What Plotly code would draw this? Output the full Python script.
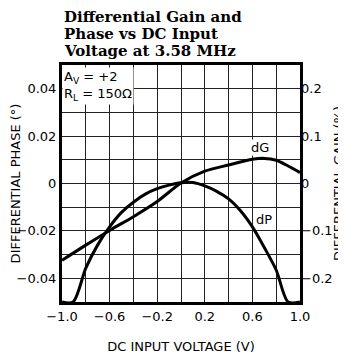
import plotly.graph_objects as go

# Differential phase (deg) vs DC input voltage
dp_x = [-1.0, -0.907, -0.8, -0.7, -0.6, -0.5, -0.4, -0.3, -0.2, -0.1, 0.0, 0.1, 0.2, 0.3, 0.4, 0.5, 0.6, 0.7, 0.8, 0.9, 1.0]
dp_y = [-0.05, -0.05, -0.0357, -0.0259, -0.0183, -0.0122, -0.0079, -0.0045, -0.0022, -0.0007, 0.0003, 0.0004, -0.001, -0.0033, -0.0065, -0.0115, -0.0183, -0.027, -0.0365, -0.05, -0.05]

# Differential gain (%) vs DC input voltage
dg_x = [-1.0, -0.8, -0.6, -0.4, -0.2, 0.0, 0.2, 0.4, 0.6, 0.7, 0.8, 0.9, 1.0]
dg_y = [-0.162, -0.13, -0.099, -0.07, -0.038, 0.001, 0.026, 0.039, 0.051, 0.053, 0.049, 0.037, 0.023]

x_grid = [-1.0, -0.8, -0.6, -0.4, -0.2, 0.0, 0.2, 0.4, 0.6, 0.8, 1.0]
x_labels = ["−1.0", "", "−0.6", "", "−0.2", "", "0.2", "", "0.6", "", "1.0"]
ph_grid = [-0.05, -0.04, -0.03, -0.02, -0.01, 0.0, 0.01, 0.02, 0.03, 0.04, 0.05]
ph_labels = ["", "−0.04", "", "−0.02", "", "0", "", "0.02", "", "0.04", ""]
g_ticks = [-0.2, -0.1, 0.0, 0.1, 0.2]
g_labels = ["−0.2", "−0.1", "0", "0.1", "0.2"]
title_lines = ["Differential Gain and", "Phase vs DC Input", "Voltage at 3.58 MHz"]

font_sans = "DejaVu Sans"

fig = go.Figure()
fig.add_trace(go.Scatter(x=dp_x, y=dp_y, mode="lines", line=dict(color="black", width=3, shape="spline", smoothing=0.8), yaxis="y", showlegend=False))
fig.add_trace(go.Scatter(x=dg_x, y=dg_y, mode="lines", line=dict(color="black", width=3, shape="spline", smoothing=0.8), yaxis="y2", showlegend=False))

fig.update_layout(
    width=338, height=350,
    margin=dict(l=54, r=46, t=57, b=56),
    paper_bgcolor="white", plot_bgcolor="white",
    font=dict(family=font_sans, size=12, color="black"),
    xaxis=dict(range=[-1, 1], tickvals=x_grid, ticktext=x_labels, showgrid=True, gridcolor="#222222", gridwidth=1,
               showline=True, linecolor="black", linewidth=3, mirror=True, ticks="", zeroline=False, automargin=False,
               tickfont=dict(size=13), ticklabelstandoff=0,
               title=dict(text="DC INPUT VOLTAGE (V)", font=dict(size=13), standoff=20)),
    yaxis=dict(range=[-0.05, 0.05], tickvals=ph_grid, ticktext=ph_labels, showgrid=True, gridcolor="#222222", gridwidth=1,
               showline=True, linecolor="black", linewidth=3, mirror=True, ticks="", zeroline=False, automargin=False,
               tickfont=dict(size=13),
               title=dict(text="DIFFERENTIAL PHASE (°)", font=dict(size=13), standoff=4)),
    yaxis2=dict(range=[-0.25, 0.25], overlaying="y", side="right", tickvals=g_ticks, ticktext=g_labels,
                showgrid=False, zeroline=False, ticks="", showline=False, automargin=False,
                tickfont=dict(size=13),
                title=dict(text="DIFFERENTIAL GAIN (%)", font=dict(size=13), standoff=8)),
)

fig.add_annotation(x=0, y=1, xref="paper", yref="paper", xanchor="left", yanchor="top", xshift=0, yshift=-2,
                   text="A<sub>V</sub> = +2<br>R<sub>L</sub> = 150Ω", showarrow=False, align="left",
                   bgcolor="white", font=dict(size=13, family=font_sans), borderpad=1)
fig.add_annotation(x=0.66, y=0.015, xref="x", yref="y", text="dG", showarrow=False, bgcolor="white",
                   font=dict(size=13, family=font_sans), borderpad=0)
fig.add_annotation(x=0.70, y=-0.0153, xref="x", yref="y", text="dP", showarrow=False, bgcolor="white",
                   font=dict(size=13, family=font_sans), borderpad=0)

for line, shift in zip(title_lines, [48, 31, 14]):
    fig.add_annotation(x=0, y=1, xref="paper", yref="paper", xanchor="left", yanchor="middle", yshift=shift,
                       text="<b>" + line + "</b>", showarrow=False, align="left",
                       font=dict(family="DejaVu Serif", size=15, color="black"))

fig.write_html("out.html")
